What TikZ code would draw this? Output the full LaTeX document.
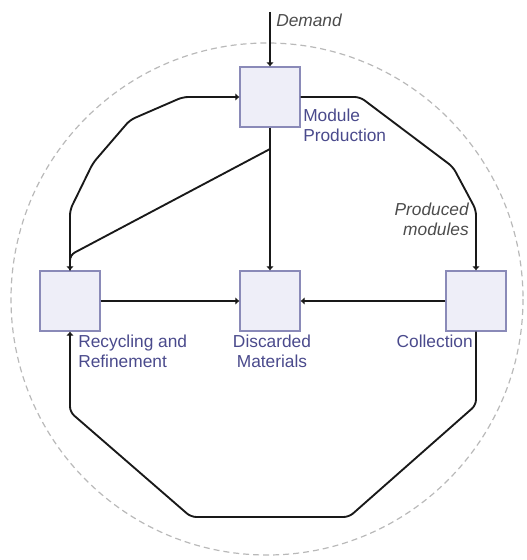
\documentclass[tikz,border=0pt]{standalone}
\usepackage{fontspec}
\setmainfont{Liberation Sans}
\usetikzlibrary{arrows.meta}
\definecolor{boxfill}{HTML}{EEEEF8}
\definecolor{boxline}{HTML}{8A8AB8}
\definecolor{lbltext}{HTML}{4A4A8C}
\tikzset{
  stock/.style = {draw=boxline, fill=boxfill, line width=0.8pt,
                  minimum size=45pt, inner sep=0pt},
  flow/.style  = {draw=black!90, line width=1.4pt, rounded corners=4pt,
                  -{Latex[length=3pt,width=5.5pt]}}, % tiny dark tips at the boxes
  lbl/.style   = {text=lbltext, inner sep=0pt, font=\fontsize{13}{15}\selectfont},
  note/.style  = {text=black!70, inner sep=0pt, font=\fontsize{13}{15}\selectfont\itshape}
}

\begin{document}
\begin{tikzpicture}[x=0.75pt,y=-0.75pt]
\useasboundingbox (0,0) rectangle (526,560);
\draw[gray!55, line width=0.9pt, dash pattern=on 4.5pt off 3pt] (267,299) circle (256);

\node[stock] (mp)  at (270,97)  {};
\node[stock] (rr)  at (70,301)  {};
\node[stock] (dm)  at (270,301) {};
\node[stock] (col) at (476,301) {};

\coordinate (dem)   at (270,12);
\coordinate (split) at (270,149);  % branch off the production line
\coordinate (join)  at (70,255);

\draw[flow] (dem) -- (mp);
\draw[flow] (mp.south) -- (dm.north);
\draw[flow] (split) -- (join) -- (rr.north);
\draw[flow] (rr.north) -- (70,210) -- (93,163) -- (130,120) -- (183,97) -- (mp.west);
\draw[flow] (mp.east) -- (360,97) -- (453,167) -- (476,210) -- (col.north);
\draw[flow] (rr.east) -- (dm.west);
\draw[flow] (col.west) -- (dm.east);
\draw[flow] (col.south) -- (476,405) -- (349,517) -- (191,517) -- (70,412) -- (rr.south);

% base of a two-line node = baseline of its last line
\node[lbl, anchor=base west, align=left] at (303,141) {Module\\Production};
\node[lbl, anchor=base west, align=left] at (78,367)  {Recycling and\\Refinement};
\node[lbl, anchor=base, align=center]    at (272,367) {Discarded\\Materials};
\node[lbl, anchor=base east]             at (473,347) {Collection};
\node[note, anchor=base east, align=right] at (469,235) {Produced\\modules};
\node[note, anchor=base west]            at (276,27)  {Demand};
\end{tikzpicture}
\end{document}
